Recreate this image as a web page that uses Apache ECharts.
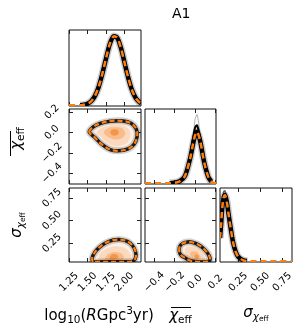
<!DOCTYPE html>
<html><head><meta charset="utf-8">
<script src="https://cdn.jsdelivr.net/npm/echarts@6/dist/echarts.min.js"></script>
<style>html,body{margin:0;padding:0;background:#fff}#c{width:307px;height:333px}</style>
</head><body><div id="c"></div>
<script>
// ---- tick labels ----
const logRTicks = [1.25, 1.5, 1.75, 2.0];
const logRTickLabels = ['1.25', '1.50', '1.75', '2.00'];
const chiTicks = [-0.4, -0.2, 0.0, 0.2];
const chiTickLabels = ['−0.4', '−0.2', '0.0', '0.2'];
const sigTicks = [0.25, 0.5, 0.75];
const sigTickLabels = ['0.25', '0.50', '0.75'];

// ---- axis ranges ----
const logRRange = [1.25, 2.225];
const chiRangeX = [-0.491, 0.205];
const chiRangeY = [-0.505, 0.23];
const sigRange = [0.043, 0.86];
const logRHistRange = [-0.03, 3.2];
const chiHistRange = [-0.1, 10.4];
const sigHistRange = [-0.1, 10.1];

// ---- 1D marginals ----
const logRX = [1.25, 1.30, 1.35, 1.40, 1.45, 1.50, 1.55, 1.60, 1.65, 1.70, 1.75, 1.80, 1.85, 1.90, 1.95, 2.00, 2.05, 2.10, 2.15, 2.20, 2.225];
const logRHist = [0, 0, 0, 0.005, 0.02, 0.065, 0.17, 0.39, 0.77, 1.32, 1.97, 2.58, 2.92, 2.88, 2.47, 1.84, 1.2, 0.67, 0.33, 0.14, 0.09];

const chiX = [-0.491, -0.40, -0.30, -0.25, -0.20, -0.15, -0.10, -0.05, -0.02, 0.0, 0.02, 0.05, 0.08, 0.10, 0.13, 0.16, 0.205];
const chiHist = [0, 0, 0, 0.015, 0.07, 0.29, 1.0, 3.4, 5.5, 6.7, 7.2, 5.9, 3.6, 2.3, 0.86, 0.22, 0];
const chiDrawMid = [0, 0, 0, 0.015, 0.07, 0.3, 1.1, 3.8, 6.3, 7.8, 8.1, 6.3, 3.7, 2.3, 0.8, 0.2, 0];
const chiDrawHi = [0, 0, 0, 0.01, 0.05, 0.2, 0.8, 3.2, 6.3, 8.9, 9.6, 6.8, 3.4, 1.9, 0.6, 0.12, 0];

const sigX = [0.043, 0.055, 0.07, 0.085, 0.10, 0.12, 0.14, 0.165, 0.19, 0.22, 0.25, 0.30, 0.35, 0.40, 0.50, 0.60, 0.70, 0.86];
const sigHist = [3.2, 5.0, 7.5, 8.8, 9.1, 8.2, 6.5, 4.5, 2.7, 1.35, 0.62, 0.17, 0.04, 0, 0, 0, 0, 0];
const sigDrawHi = [3.6, 5.6, 8.3, 9.6, 9.7, 8.5, 6.6, 4.4, 2.6, 1.25, 0.55, 0.14, 0.03, 0, 0, 0, 0, 0];

// ---- 2D contours (x, y in data units) ----
const contA = [[1.524,0.006],[1.578,0.055],[1.669,0.088],[1.804,0.111],[1.961,0.114],[2.096,0.088],[2.164,0.029],[2.172,-0.043],[2.132,-0.115],[2.051,-0.161],[1.916,-0.180],[1.804,-0.167],[1.691,-0.115],[1.601,-0.049]];
const fillA2 = [[1.625,-0.003],[1.663,0.031],[1.726,0.054],[1.821,0.070],[1.931,0.072],[2.025,0.054],[2.073,0.013],[2.078,-0.038],[2.050,-0.088],[1.994,-0.120],[1.899,-0.134],[1.821,-0.124],[1.742,-0.088],[1.679,-0.042]];
const fillA3 = [[1.72,0.0],[1.77,0.04],[1.86,0.05],[1.96,0.045],[2.01,0.0],[1.98,-0.05],[1.89,-0.07],[1.79,-0.05]];
const fillA4 = [[1.81,0.01],[1.85,0.03],[1.91,0.025],[1.92,-0.01],[1.88,-0.03],[1.83,-0.025]];

const contB = [[1.58,0.046],[1.565,0.09],[1.60,0.15],[1.66,0.205],[1.75,0.255],[1.85,0.285],[1.95,0.29],[2.04,0.27],[2.11,0.225],[2.15,0.16],[2.155,0.10],[2.13,0.06],[2.08,0.046],[1.90,0.046],[1.70,0.046]];
const fillB2 = [[1.66,0.05],[1.66,0.12],[1.74,0.185],[1.86,0.215],[1.98,0.205],[2.06,0.16],[2.09,0.10],[2.05,0.055],[1.86,0.05]];
const fillB3 = [[1.74,0.06],[1.76,0.115],[1.84,0.15],[1.94,0.145],[1.99,0.105],[1.97,0.065],[1.86,0.055]];
const fillB4 = [[1.80,0.08],[1.82,0.12],[1.88,0.13],[1.92,0.1],[1.88,0.075]];

const contC = [[-0.155,0.16],[-0.15,0.215],[-0.12,0.25],[-0.07,0.265],[-0.02,0.258],[0.03,0.235],[0.08,0.195],[0.12,0.145],[0.145,0.09],[0.14,0.055],[0.10,0.046],[0.02,0.046],[-0.05,0.06],[-0.10,0.09],[-0.14,0.12]];
const fillC2 = [[-0.1,0.16],[-0.09,0.2],[-0.05,0.215],[0.0,0.2],[0.06,0.16],[0.09,0.11],[0.09,0.07],[0.04,0.055],[-0.03,0.07],[-0.08,0.11]];
const fillC3 = [[-0.05,0.13],[-0.03,0.16],[0.01,0.155],[0.045,0.12],[0.055,0.085],[0.02,0.07],[-0.03,0.09]];
const fillC4 = [[-0.005,0.1],[0.005,0.125],[0.03,0.115],[0.035,0.09],[0.015,0.08]];

// ---- chart ----
const FONT = 'DejaVu Sans';
const ORANGE = '#ff7f0e';
const chart = echarts.init(document.getElementById('c'), null, {renderer: 'canvas', width: 307, height: 333});

const gridBoxes = [
  {left: 69, top: 30, width: 72, height: 76},
  {left: 69, top: 109, width: 72, height: 75},
  {left: 145, top: 109, width: 71, height: 75},
  {left: 69, top: 188, width: 72, height: 74},
  {left: 145, top: 188, width: 71, height: 74},
  {left: 220, top: 188, width: 72, height: 74}
];
const grids = gridBoxes.map(g => Object.assign({show: true, borderColor: '#111', borderWidth: 1, backgroundColor: 'transparent'}, g));

const panels = [
  {x: logRRange, y: logRHistRange, xt: logRTicks, xl: logRTickLabels, yt: null, showX: false, showY: false},
  {x: logRRange, y: chiRangeY, xt: logRTicks, xl: logRTickLabels, yt: chiTicks, yl: chiTickLabels, showX: false, showY: true},
  {x: chiRangeX, y: chiHistRange, xt: chiTicks, xl: chiTickLabels, yt: null, showX: false, showY: false},
  {x: logRRange, y: sigRange, xt: logRTicks, xl: logRTickLabels, yt: sigTicks, yl: sigTickLabels, showX: true, showY: true},
  {x: chiRangeX, y: sigRange, xt: chiTicks, xl: chiTickLabels, yt: sigTicks, yl: sigTickLabels, showX: true, showY: false},
  {x: sigRange, y: sigHistRange, xt: sigTicks, xl: sigTickLabels, yt: null, showX: true, showY: false}
];

function lab(v, t, l) {
  for (let i = 0; i < t.length; i++) if (Math.abs(t[i] - v) < 1e-6) return l[i];
  return '';
}

const RT = {
  n: {fontSize: 15, fontFamily: FONT, color: '#000', lineHeight: 20},
  i: {fontSize: 15, fontFamily: FONT, fontStyle: 'italic', color: '#000', lineHeight: 20},
  sub: {fontSize: 10.5, fontFamily: FONT, color: '#000', lineHeight: 10, verticalAlign: 'bottom'},
  sup: {fontSize: 10.5, fontFamily: FONT, color: '#000', lineHeight: 10, verticalAlign: 'top'},
  subi: {fontSize: 10.5, fontFamily: FONT, fontStyle: 'italic', color: '#000', lineHeight: 13, verticalAlign: 'bottom'},
  ssub: {fontSize: 7.5, fontFamily: FONT, color: '#000', lineHeight: 7, verticalAlign: 'bottom'}
};

const xAxis = [], yAxis = [];
panels.forEach((p, i) => {
  ['bottom', 'top'].forEach((pos, k) => {
    xAxis.push({
      type: 'value', gridIndex: i, position: pos, min: p.x[0], max: p.x[1],
      axisLine: {show: false, onZero: false}, splitLine: {show: false},
      axisTick: {show: true, inside: true, length: 4, customValues: p.xt, lineStyle: {color: '#222', width: 1}},
      axisLabel: {show: k === 0 && p.showX, customValues: p.xt, formatter: v => lab(v, p.xt, p.xl),
        rotate: 45, align: 'center', verticalAlign: 'middle', margin: 20, fontSize: 10, fontFamily: FONT, color: '#000'}
    });
  });
  ['left', 'right'].forEach((pos, k) => {
    const has = !!p.yt;
    yAxis.push({
      type: 'value', gridIndex: i, position: pos, min: p.y[0], max: p.y[1],
      axisLine: {show: false, onZero: false}, splitLine: {show: false},
      axisTick: {show: has, inside: true, length: 4, customValues: has ? p.yt : undefined, lineStyle: {color: '#222', width: 1}},
      axisLabel: {show: has && k === 0 && p.showY, customValues: has ? p.yt : undefined, formatter: v => has ? lab(v, p.yt, p.yl) : '',
        rotate: 45, align: 'center', verticalAlign: 'middle', margin: 17, fontSize: 10, fontFamily: FONT, color: '#000'}
    });
  });
});

// axis names
Object.assign(xAxis[6], {name: '{n|log}{sub|10}{n|(}{i|R}{n|Gpc}{sup|3}{n|yr)}', nameLocation: 'middle', nameGap: 44,
  nameTextStyle: {rich: RT, padding: [0, 12, 0, 0]}});
Object.assign(xAxis[8], {name: '{i|χ}{sub|eff}', nameLocation: 'middle', nameGap: 44, nameTextStyle: {rich: RT}});
Object.assign(xAxis[10], {name: '{i|σ}{subi|χ}{ssub|eff}', nameLocation: 'middle', nameGap: 41, nameTextStyle: {rich: RT}});
Object.assign(yAxis[2], {name: '{i|χ}{sub|eff}', nameLocation: 'middle', nameGap: 42, nameRotate: 90, nameTextStyle: {rich: RT, padding: [0, 0, 0, 16]}});
Object.assign(yAxis[6], {name: '{i|σ}{subi|χ}{ssub|eff}', nameLocation: 'middle', nameGap: 42, nameRotate: 90, nameTextStyle: {rich: RT}});

const series = [];
function shapeSeries(i, pts, type, style, z, smooth) {
  series.push({
    type: 'custom', coordinateSystem: 'cartesian2d', xAxisIndex: 2 * i, yAxisIndex: 2 * i, clip: true, silent: true, z: z,
    animation: false, data: [pts[0]],
    renderItem: (params, api) => ({type: type, shape: {points: pts.map(p => api.coord(p)), smooth: smooth}, style: style})
  });
}
function histSeries(i, xs, ys, draws) {
  const full = xs.map((x, k) => [x, ys[k]]);
  const nz = full.filter(d => d[1] > 0);
  shapeSeries(i, nz, 'polyline', {fill: null, stroke: 'rgba(0,0,0,0.2)', lineWidth: 7.5}, 2, 0.3);
  (draws || []).forEach(d => {
    const dd = xs.map((x, k) => [x, d.v[k]]).filter(q => q[1] > 0);
    shapeSeries(i, dd, 'polyline', {fill: null, stroke: d.c, lineWidth: d.w}, 3, 0.3);
  });
  shapeSeries(i, nz, 'polyline', {fill: null, stroke: '#000', lineWidth: 4.5}, 4, 0.3);
  shapeSeries(i, full, 'polyline', {fill: null, stroke: ORANGE, lineWidth: 2.5, lineDash: [6, 4]}, 5, 0.3);
}
function contourPanel(i, outline, f2, f3, f4) {
  shapeSeries(i, outline, 'polygon', {fill: '#fdefe5', stroke: null}, 1, 0.35);
  shapeSeries(i, f2, 'polygon', {fill: '#fbd9be', stroke: null}, 1, 0.35);
  shapeSeries(i, f3, 'polygon', {fill: '#f9bb8a', stroke: null}, 1, 0.35);
  shapeSeries(i, f4, 'polygon', {fill: '#f69545', stroke: null}, 1, 0.35);
  shapeSeries(i, outline, 'polygon', {fill: null, stroke: 'rgba(0,0,0,0.18)', lineWidth: 7}, 2, 0.35);
  shapeSeries(i, outline, 'polygon', {fill: null, stroke: 'rgba(0,0,0,0.88)', lineWidth: 3.5}, 3, 0.35);
  shapeSeries(i, outline, 'polygon', {fill: null, stroke: ORANGE, lineWidth: 2.2, lineDash: [5, 3]}, 4, 0.35);
}

histSeries(0, logRX, logRHist);
histSeries(2, chiX, chiHist, [{v: chiDrawHi, c: 'rgba(0,0,0,0.3)', w: 1}, {v: chiDrawMid, c: '#000', w: 2}]);
histSeries(5, sigX, sigHist, [{v: sigDrawHi, c: 'rgba(0,0,0,0.6)', w: 1.5}]);
contourPanel(1, contA, fillA2, fillA3, fillA4);
contourPanel(3, contB, fillB2, fillB3, fillB4);
contourPanel(4, contC, fillC2, fillC3, fillC4);

chart.setOption({
  animation: false,
  backgroundColor: '#fff',
  grid: grids,
  xAxis: xAxis,
  yAxis: yAxis,
  series: series,
  graphic: [
    {type: 'text', left: 172, top: 7, style: {text: 'A1', font: '14px "DejaVu Sans"', fill: '#000'}},
    {type: 'line', shape: {x1: 171, y1: 307.5, x2: 191, y2: 307.5}, style: {stroke: '#000', lineWidth: 1}},
    {type: 'line', shape: {x1: 10.5, y1: 131, x2: 10.5, y2: 156}, style: {stroke: '#000', lineWidth: 1}}
  ]
});
</script></body></html>
